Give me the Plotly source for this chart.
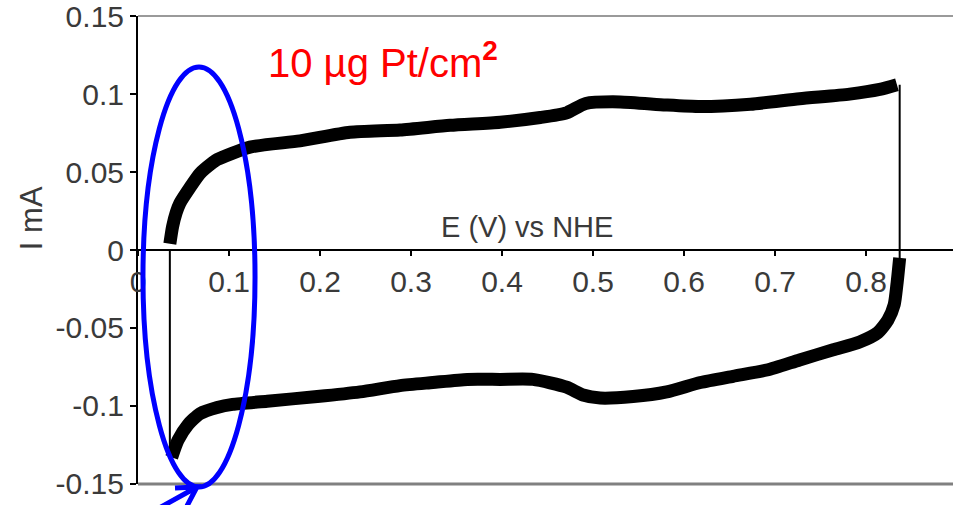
import plotly.graph_objects as go

# Anodic (forward) sweep: potential E (V vs NHE) and current I (mA)
e_anodic = [0.035, 0.038, 0.042, 0.046, 0.057, 0.068, 0.082, 0.087, 0.123, 0.178,
            0.233, 0.288, 0.343, 0.398, 0.442, 0.471, 0.492, 0.530, 0.580,
            0.618, 0.673, 0.727, 0.782, 0.815, 0.834]
i_anodic = [0.004, 0.015, 0.024, 0.030, 0.040, 0.049, 0.056, 0.058, 0.066, 0.070,
            0.0755, 0.077, 0.080, 0.082, 0.085, 0.088, 0.094, 0.095, 0.093,
            0.092, 0.0935, 0.097, 0.100, 0.103, 0.106]

# Cathodic (reverse) sweep
e_cathodic = [0.837, 0.834, 0.831, 0.824, 0.813, 0.793, 0.764, 0.727, 0.691, 0.654,
              0.618, 0.581, 0.544, 0.508, 0.489, 0.471, 0.434, 0.398, 0.362,
              0.324, 0.288, 0.244, 0.197, 0.142, 0.104, 0.087, 0.068, 0.055,
              0.044, 0.037]
i_cathodic = [-0.005, -0.022, -0.035, -0.045, -0.053, -0.059, -0.064, -0.0705, -0.077, -0.081,
              -0.085, -0.091, -0.094, -0.095, -0.093, -0.088, -0.083, -0.083, -0.083,
              -0.085, -0.087, -0.091, -0.094, -0.097, -0.099, -0.101, -0.105, -0.112,
              -0.122, -0.133]

# Potential-step segments at the sweep limits
e_step_low = [0.035, 0.035]
i_step_low = [-0.133, 0.0]
e_step_high = [0.837, 0.837]
i_step_high = [0.106, -0.025]

# Axis ticks
x_ticks = [0, 0.1, 0.2, 0.3, 0.4, 0.5, 0.6, 0.7, 0.8]
x_tick_text = ["0", "0.1", "0.2", "0.3", "0.4", "0.5", "0.6", "0.7", "0.8"]
y_ticks = [0.15, 0.1, 0.05, 0, -0.05, -0.1, -0.15]
y_tick_text = ["0.15", "0.1", "0.05", "0", "-0.05", "-0.1", "-0.15"]

FONT = "Liberation Sans, Arial, sans-serif"
TXT = "#3a3a3a"

fig = go.Figure()

for ex, iy in ((e_step_low, i_step_low), (e_step_high, i_step_high)):
    fig.add_trace(go.Scatter(x=ex, y=iy, mode="lines",
                             line=dict(color="black", width=2),
                             showlegend=False, hoverinfo="skip"))

for ex, iy in ((e_anodic, i_anodic), (e_cathodic, i_cathodic)):
    fig.add_trace(go.Scatter(x=ex, y=iy, mode="lines",
                             line=dict(color="black", width=13, shape="spline", smoothing=0.6),
                             showlegend=False))

fig.update_layout(
    width=953, height=505,
    margin=dict(l=138, r=0, t=16, b=21),
    paper_bgcolor="white", plot_bgcolor="white",
    font=dict(family=FONT, color=TXT),
    xaxis=dict(range=[0, 0.8956], anchor="free", position=0.5,
               tickvals=x_ticks, ticktext=x_tick_text,
               showline=True, linecolor="black", linewidth=2,
               ticks="outside", ticklen=5, tickwidth=2, tickcolor="black",
               tickfont=dict(size=30, color=TXT), ticklabelstandoff=0,
               showgrid=False, zeroline=False),
    yaxis=dict(range=[-0.1501, 0.1501],
               tickvals=y_ticks, ticktext=y_tick_text,
               showline=True, linecolor="black", linewidth=2,
               ticks="outside", ticklen=6, tickwidth=2, tickcolor="black",
               tickfont=dict(size=30, color=TXT), ticklabeloverflow="allow",
               showgrid=False, zeroline=False),
)

# Frame lines at top and bottom of the plot area
fig.add_shape(type="line", xref="paper", yref="paper", x0=0, x1=1, y0=1, y1=1,
              line=dict(color="#9a9a9a", width=2))
fig.add_shape(type="line", xref="paper", yref="paper", x0=0, x1=1, y0=0, y1=0,
              line=dict(color="#808080", width=3))

# Highlight ellipse around the hydrogen region
fig.add_shape(type="circle", xref="paper", yref="paper",
              x0=0.0061, x1=0.1436, y0=-0.0064, y1=0.891,
              line=dict(color="#0000ff", width=5))

# Arrow pointing at the ellipse
fig.add_shape(type="path", xref="paper", yref="paper",
              path="M 0.0172 -0.0598 L 0.0724 -0.0064 M 0.0454 -0.0085 L 0.0724 -0.0064 L 0.0601 -0.047",
              line=dict(color="#0000ff", width=5))

fig.add_annotation(xref="paper", yref="paper", x=0.477, y=0.549,
                   text="E (V) vs NHE", showarrow=False,
                   xanchor="center", yanchor="middle",
                   font=dict(size=29, color=TXT, family=FONT))
fig.add_annotation(xref="paper", yref="paper", x=-0.1313, y=0.568,
                   text="I mA", showarrow=False, textangle=-90,
                   xanchor="center", yanchor="middle",
                   font=dict(size=31, color=TXT, family=FONT))
fig.add_annotation(xref="paper", yref="paper", x=0.157, y=0.906,
                   text="10 µg Pt/cm<sup><b>2</b></sup>", showarrow=False,
                   xanchor="left", yanchor="middle",
                   font=dict(size=40, color="#ff0000", family=FONT))

fig.write_html("out.html")
